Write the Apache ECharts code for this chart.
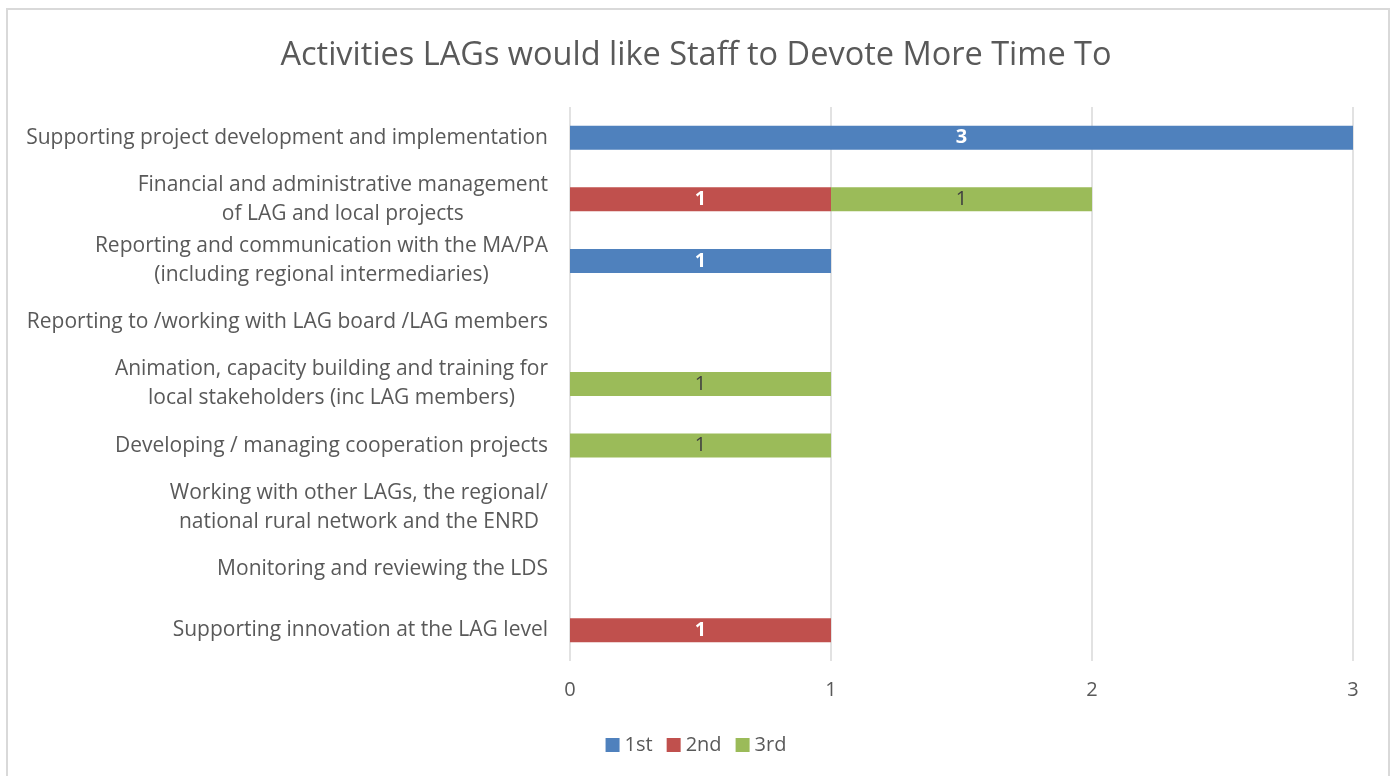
<!DOCTYPE html>
<html>
	<head>
		<meta charset="utf-8">
		<title>Activities LAGs would like Staff to Devote More Time To</title>
		<style type="text/css">
			html, body {
				margin: 0;
				padding: 0;
				background: #fff;
			}
			#frame {
				position: absolute;
				left: 6px;
				top: 8px;
				width: 1380px;
				height: 790px;
				border: 2px solid #d9d9d9;
			}
			#main {
				position: absolute;
				left: 0;
				top: 0;
				width: 1392px;
				height: 776px;
			}
		</style>
	</head>
	<body>
		<div id="frame"></div>
		<div id="main"></div>
		<script src="https://cdn.jsdelivr.net/npm/echarts@6/dist/echarts.min.js" type="text/javascript"></script>
		<script type="text/javascript">
			var myChart = echarts.init(document.getElementById('main'));

			var activities = [
				'Supporting project development and implementation',
				'Financial and administrative management\nof LAG and local projects',
				'Reporting and communication with the MA/PA\n(including regional intermediaries)',
				'Reporting to /working with LAG board /LAG members',
				'Animation, capacity building and training for\nlocal stakeholders (inc LAG members)',
				'Developing / managing cooperation projects',
				'Working with other LAGs, the regional/\nnational rural network and the ENRD',
				'Monitoring and reviewing the LDS',
				'Supporting innovation at the LAG level'
			];

			var first = [3, 0, 1, 0, 0, 0, 0, 0, 0];
			var second = [0, 1, 0, 0, 0, 0, 0, 0, 1];
			var third = [0, 1, 0, 0, 1, 1, 0, 0, 0];

			var xTicks = [0, 1, 2, 3];

			var font = '"Open Sans", "Liberation Sans", sans-serif';

			function hideZero(p) {
				return p.value ? String(p.value) : '';
			}

			option = {
				animation: false,
				title: {
					text: 'Activities LAGs would like Staff to Devote More Time To',
					left: 'center',
					top: 34,
					textStyle: {
						fontFamily: font,
						fontSize: 32.5,
						fontWeight: 'normal',
						color: '#595959'
					}
				},
				legend: {
					bottom: 16,
					left: 'center',
					itemWidth: 14,
					itemHeight: 14,
					itemGap: 14,
					icon: 'rect',
					textStyle: {
						fontFamily: font,
						fontSize: 20,
						color: '#595959'
					},
					data: ['1st', '2nd', '3rd']
				},
				grid: {
					left: 570,
					right: 39,
					top: 107,
					bottom: 115
				},
				xAxis: {
					type: 'value',
					min: xTicks[0],
					max: xTicks[xTicks.length - 1],
					interval: 1,
					axisLine: { show: false },
					axisTick: { show: false },
					axisLabel: {
						margin: 19,
						fontFamily: font,
						fontSize: 20,
						color: '#595959'
					},
					splitLine: {
						show: true,
						lineStyle: { color: '#d9d9d9', width: 1.5 }
					}
				},
				yAxis: {
					type: 'category',
					inverse: true,
					data: activities,
					axisLine: { show: false },
					axisTick: { show: false },
					axisLabel: {
						margin: 22,
						interval: 0,
						lineHeight: 29,
						formatter: function (v) {
							return v.split('\n').map(function (s) {
								return '{c|' + s + '}';
							}).join('\n');
						},
						rich: {
							c: {
								align: 'center',
								fontFamily: font,
								fontSize: 21,
								lineHeight: 29,
								color: '#595959'
							}
						}
					}
				},
				series: [{
					name: '1st',
					type: 'bar',
					stack: 'total',
					barWidth: 24,
					data: first,
					itemStyle: { color: '#4f81bd' },
					label: {
						show: true,
						formatter: hideZero,
						fontFamily: font,
						fontSize: 20,
						fontWeight: 'bold',
						color: '#ffffff'
					}
				}, {
					name: '2nd',
					type: 'bar',
					stack: 'total',
					barWidth: 24,
					data: second,
					itemStyle: { color: '#c0504d' },
					label: {
						show: true,
						formatter: hideZero,
						fontFamily: font,
						fontSize: 20,
						fontWeight: 'bold',
						color: '#ffffff'
					}
				}, {
					name: '3rd',
					type: 'bar',
					stack: 'total',
					barWidth: 24,
					data: third,
					itemStyle: { color: '#9bbb59' },
					label: {
						show: true,
						formatter: hideZero,
						fontFamily: font,
						fontSize: 20,
						color: '#404040'
					}
				}]
			};
			myChart.setOption(option);
		</script>
	</body>
</html>
